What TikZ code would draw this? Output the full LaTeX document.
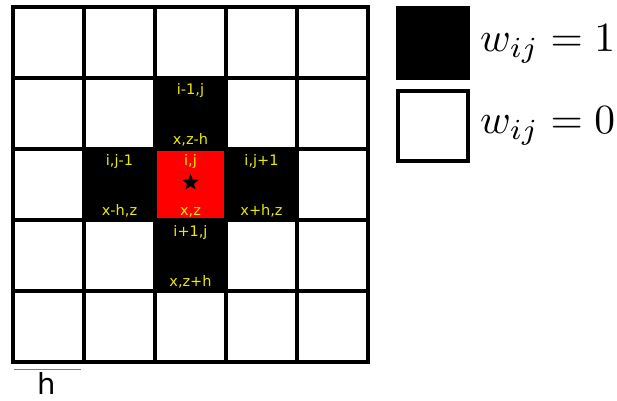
\documentclass[tikz,border=0pt]{standalone}
\usepackage{fontspec}
\usepackage{amsmath}
\usepackage{tikz}
\usetikzlibrary{positioning,shapes.geometric}
\newfontfamily\lblfont{DejaVu Sans}
\definecolor{lblyellow}{RGB}{235,235,0}
\newcommand{\keymath}[1]{\scalebox{4.15}{$#1$}}

\begin{document}
\begin{tikzpicture}[x=1pt, y=-1pt,
  cell/.style={draw, line width=4pt, fill=white, minimum size=71pt, inner sep=0pt},
  hot/.style={cell, fill=black},
  ctr/.style={fill=red, minimum size=67pt, inner sep=0pt},
  lbl/.style={text=lblyellow, inner sep=0pt, font=\lblfont\fontsize{14.5}{16}\selectfont},
  keytext/.style={anchor=base west, inner sep=0pt}]
  \useasboundingbox (0,0) rectangle (617,400);
  % 5x5 grid
  \foreach \r in {0,...,4}
    \foreach \c in {0,...,4}
      \node[cell] (g\r\c) at (48.5+71*\c, 42.5+71*\r) {};
  % neighbours and centre
  \node[hot] (up) at (g12) {};
  \node[hot] (lf) at (g21) {};
  \node[hot] (rt) at (g23) {};
  \node[hot] (dn) at (g32) {};
  \node[ctr] (mid) at (g22) {};
  \node[star, star points=5, star point ratio=2.3, fill=black,
        minimum size=17pt, inner sep=0pt] (pt) at (190.5,182.5) {};
  \foreach \g/\t/\b in {g12/{i-1,j}/{x,z-h}, g21/{i,j-1}/{x-h,z},
                        g22/{i,j}/{x,z}, g23/{i,j+1}/{x+h,z}, g32/{i+1,j}/{x,z+h}} {
    \node[lbl, below=7.5pt of \g.north] (\g-top) {\t};
    \node[lbl, above=5pt of \g.south] (\g-bot) {\b};
  }
  % legend
  \node[hot, minimum size=70pt] (key1) at (433,43) {};
  \node[cell, minimum size=70pt] (key0) at (433,126) {};
  \node[keytext] (w1) at (480,51) {\keymath{w_{ij} = 1}};
  \node[keytext] (w0) at (480,133) {\keymath{w_{ij} = 0}};
  % scale bar
  \coordinate (sl) at (14,369);
  \coordinate (sr) at (81,369);
  \draw[gray, line width=1pt] (sl) -- (sr);
  \node[anchor=base, inner sep=0pt, font=\lblfont\fontsize{29}{32}\selectfont] (hlab) at (47,394) {h};
\end{tikzpicture}
\end{document}
